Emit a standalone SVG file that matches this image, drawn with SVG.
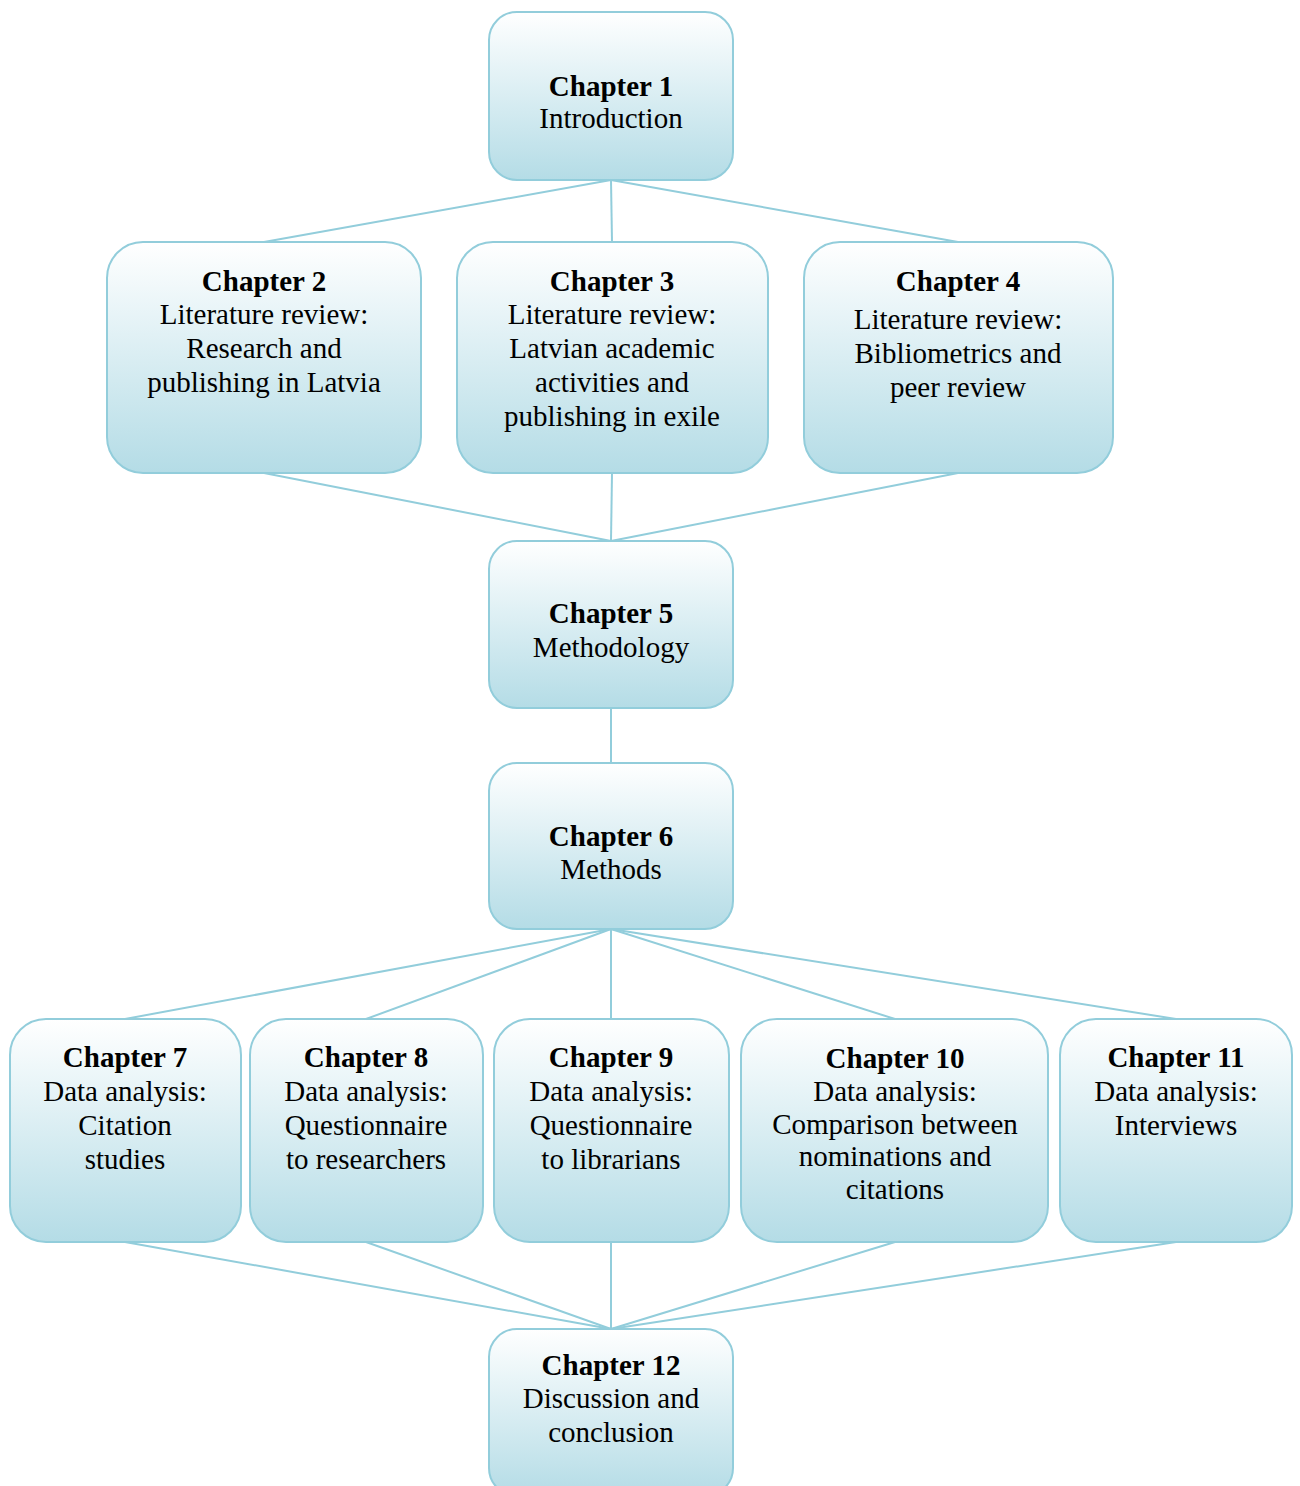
<svg xmlns="http://www.w3.org/2000/svg" width="1300" height="1486" viewBox="0 0 1300 1486">
<defs>
<linearGradient id="g" x1="0" y1="0" x2="0" y2="1">
<stop offset="0" stop-color="#ffffff"/>
<stop offset="1" stop-color="#b4dce6"/>
</linearGradient>
<style>
.n{fill:url(#g);stroke:#92cddb;stroke-width:2}
.c line{stroke:#92cddb;stroke-width:2}
text{font-family:"Liberation Serif","Times New Roman",serif;font-size:29px;fill:#000;text-anchor:middle}
.b{font-weight:bold}
</style>
</defs>
<rect width="1300" height="1486" fill="#fff"/>
<g id="connectors" class="c">
<line x1="611" y1="180" x2="264" y2="242"/>
<line x1="611" y1="180" x2="612" y2="242"/>
<line x1="611" y1="180" x2="958" y2="242"/>
<line x1="264" y1="473" x2="611" y2="541"/>
<line x1="612" y1="473" x2="611" y2="541"/>
<line x1="958" y1="473" x2="611" y2="541"/>
<line x1="611" y1="708" x2="611" y2="763"/>
<line x1="611" y1="929" x2="125" y2="1019"/>
<line x1="611" y1="929" x2="366" y2="1019"/>
<line x1="611" y1="929" x2="611" y2="1019"/>
<line x1="611" y1="929" x2="895" y2="1019"/>
<line x1="611" y1="929" x2="1176" y2="1019"/>
<line x1="125" y1="1242" x2="611" y2="1329"/>
<line x1="366" y1="1242" x2="611" y2="1329"/>
<line x1="611" y1="1242" x2="611" y2="1329"/>
<line x1="895" y1="1242" x2="611" y2="1329"/>
<line x1="1176" y1="1242" x2="611" y2="1329"/>
</g>
<g id="ch1"><rect class="n" x="489" y="12" width="244" height="168" rx="28"/>
<text x="611" y="96" class="b">Chapter 1</text><text x="611" y="128">Introduction</text></g>
<g id="ch2"><rect class="n" x="107" y="242" width="314" height="231" rx="36"/>
<text x="264" y="291" class="b">Chapter 2</text><text x="264" y="324">Literature review:</text><text x="264" y="358">Research and</text><text x="264" y="392">publishing in Latvia</text></g>
<g id="ch3"><rect class="n" x="457" y="242" width="311" height="231" rx="36"/>
<text x="612" y="291" class="b">Chapter 3</text><text x="612" y="324">Literature review:</text><text x="612" y="358">Latvian academic</text><text x="612" y="392">activities and</text><text x="612" y="426">publishing in exile</text></g>
<g id="ch4"><rect class="n" x="804" y="242" width="309" height="231" rx="36"/>
<text x="958" y="291" class="b">Chapter 4</text><text x="958" y="329">Literature review:</text><text x="958" y="363">Bibliometrics and</text><text x="958" y="397">peer review</text></g>
<g id="ch5"><rect class="n" x="489" y="541" width="244" height="167" rx="28"/>
<text x="611" y="623" class="b">Chapter 5</text><text x="611" y="657">Methodology</text></g>
<g id="ch6"><rect class="n" x="489" y="763" width="244" height="166" rx="28"/>
<text x="611" y="846" class="b">Chapter 6</text><text x="611" y="879">Methods</text></g>
<g id="ch7"><rect class="n" x="10" y="1019" width="231" height="223" rx="36"/>
<text x="125" y="1067" class="b">Chapter 7</text><text x="125" y="1101">Data analysis:</text><text x="125" y="1135">Citation</text><text x="125" y="1169">studies</text></g>
<g id="ch8"><rect class="n" x="250" y="1019" width="233" height="223" rx="36"/>
<text x="366" y="1067" class="b">Chapter 8</text><text x="366" y="1101">Data analysis:</text><text x="366" y="1135">Questionnaire</text><text x="366" y="1169">to researchers</text></g>
<g id="ch9"><rect class="n" x="494" y="1019" width="235" height="223" rx="36"/>
<text x="611" y="1067" class="b">Chapter 9</text><text x="611" y="1101">Data analysis:</text><text x="611" y="1135">Questionnaire</text><text x="611" y="1169">to librarians</text></g>
<g id="ch10"><rect class="n" x="741" y="1019" width="307" height="223" rx="36"/>
<text x="895" y="1068" class="b">Chapter 10</text><text x="895" y="1101">Data analysis:</text><text x="895" y="1134">Comparison between</text><text x="895" y="1166">nominations and</text><text x="895" y="1199">citations</text></g>
<g id="ch11"><rect class="n" x="1060" y="1019" width="232" height="223" rx="36"/>
<text x="1176" y="1067" class="b">Chapter 11</text><text x="1176" y="1101">Data analysis:</text><text x="1176" y="1135">Interviews</text></g>
<g id="ch12"><rect class="n" x="489" y="1329" width="244" height="167" rx="28"/>
<text x="611" y="1375" class="b">Chapter 12</text><text x="611" y="1408">Discussion and</text><text x="611" y="1442">conclusion</text></g>
</svg>
